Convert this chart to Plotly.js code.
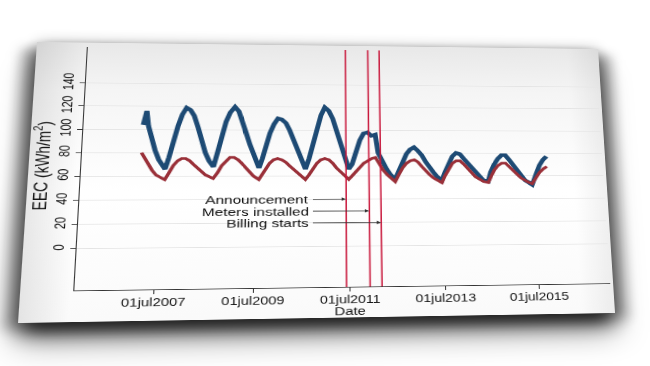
<!DOCTYPE html>
<html>
<head>
<meta charset="utf-8">
<script src="https://cdn.plot.ly/plotly-3.0.1.min.js"></script>
<style>
  html, body { margin: 0; padding: 0; background: #ffffff; width: 650px; height: 366px; overflow: hidden; }
  #sheet {
    position: absolute; left: 0; top: 0; width: 580px; height: 365px;
    transform-origin: 0 0;
    background:
      linear-gradient(to right, rgba(0,0,0,0.09) 0%, rgba(0,0,0,0) 8%, rgba(0,0,0,0) 94%, rgba(0,0,0,0.06) 100%),
      linear-gradient(to bottom, #e8e8e8 0%, #f5f5f5 18%, #ffffff 55%, #fafafa 100%);
    box-shadow: 0 16px 20px rgba(0,0,0,0.6), 0 30px 32px rgba(0,0,0,0.28), -12px 8px 14px rgba(0,0,0,0.35), 12px 8px 14px rgba(0,0,0,0.3), 0 -4px 14px rgba(0,0,0,0.16);
  }
  #chart { position: absolute; left: 0; top: 0; width: 580px; height: 365px; }
</style>
</head>
<body>
<div id="sheet"><div id="chart"></div></div>
<script>
// ---- data ----
const blueDates = ['2007-02-25','2007-03-10','2007-03-20','2007-04-05','2007-05-01','2007-06-01','2007-07-01','2007-08-20','2007-09-15','2007-10-15','2007-11-15','2007-12-15',
 '2008-01-15','2008-02-15','2008-03-15','2008-04-15','2008-05-15','2008-06-15','2008-07-15','2008-08-18','2008-09-15','2008-10-15','2008-11-15','2008-12-15',
 '2009-01-20','2009-02-20','2009-03-20','2009-04-20','2009-05-20','2009-06-20','2009-07-31','2009-08-25','2009-09-20','2009-10-20','2009-11-20','2009-12-20',
 '2010-01-20','2010-02-20','2010-03-20','2010-04-20','2010-05-20','2010-06-20','2010-07-23','2010-08-20','2010-09-20','2010-10-20','2010-11-20','2010-12-20',
 '2011-01-20','2011-02-20','2011-03-20','2011-04-20','2011-05-20','2011-06-24','2011-07-20','2011-08-20','2011-09-20','2011-10-20','2011-11-20','2011-12-20',
 '2012-01-20','2012-02-10','2012-03-15','2012-04-15','2012-05-15','2012-06-21','2012-07-20','2012-08-20','2012-09-20','2012-10-20','2012-11-21','2012-12-20',
 '2013-01-20','2013-02-20','2013-03-20','2013-04-20','2013-05-20','2013-06-24','2013-07-20','2013-08-20','2013-09-20','2013-10-20','2013-11-20','2013-12-20',
 '2014-01-20','2014-02-20','2014-03-20','2014-04-20','2014-05-20','2014-06-28','2014-07-20','2014-08-20','2014-09-20','2014-10-20','2014-11-20','2014-12-20',
 '2015-01-20','2015-02-20','2015-03-20','2015-04-20','2015-05-20','2015-06-16','2015-07-20','2015-08-20','2015-09-20','2015-10-20'];
const blueVals = [104,110,116,103,92,82,74,66,76,90,103,113,
 119,117,112,102,90,80,73,68,80,95,107,115,
 120,116,108,97,87,78,67,75,85,97,105,110,
 109,106,100,92,83,74,66,75,88,102,113,120,
 117,110,100,87,75,66,70,80,91,97,98,95,
 96,80,72,66,61,57,64,72,79,83,85,82,
 78,72,67,63,59,56,63,71,77,80,79,75,
 71,67,63,59,56,55,63,70,75,78,78,74,
 69,64,60,56,54,52,61,69,74,77];

const redDates = ['2007-02-20','2007-03-15','2007-04-15','2007-05-15','2007-06-15','2007-08-20','2007-09-20','2007-10-20','2007-11-20','2007-12-20',
 '2008-01-20','2008-02-20','2008-03-20','2008-04-20','2008-05-20','2008-06-20','2008-08-18','2008-09-20','2008-10-20','2008-11-20','2008-12-20',
 '2009-01-20','2009-02-20','2009-03-20','2009-04-20','2009-05-20','2009-06-20','2009-07-31','2009-08-25','2009-09-20','2009-10-20','2009-11-20','2009-12-20',
 '2010-01-20','2010-02-20','2010-03-20','2010-04-20','2010-05-20','2010-06-20','2010-07-23','2010-08-20','2010-09-20','2010-10-20','2010-11-20','2010-12-20',
 '2011-01-20','2011-02-20','2011-03-20','2011-04-20','2011-05-20','2011-06-24','2011-07-20','2011-08-20','2011-09-20','2011-10-20','2011-11-20','2011-12-20',
 '2012-01-20','2012-02-20','2012-03-20','2012-04-20','2012-05-20','2012-06-21','2012-07-20','2012-08-20','2012-09-20','2012-10-20','2012-11-21','2012-12-20',
 '2013-01-20','2013-02-20','2013-03-20','2013-04-20','2013-05-20','2013-06-24','2013-07-20','2013-08-20','2013-09-20','2013-10-20','2013-11-20','2013-12-20',
 '2014-01-20','2014-02-20','2014-03-20','2014-04-20','2014-05-20','2014-06-28','2014-07-20','2014-08-20','2014-09-20','2014-10-20','2014-11-20','2014-12-20',
 '2015-01-20','2015-02-20','2015-03-20','2015-04-20','2015-05-20','2015-06-16','2015-07-20','2015-08-20','2015-09-20','2015-10-20'];
const redVals = [80,76,70,65,61,57,63,69,73,75,
 75,73,70,67,64,61,58,63,69,73,76,
 76,74,71,67,63,60,57,61,66,71,74,75,
 74,72,69,66,63,60,57,61,66,71,74,75,
 74,71,67,64,61,57,60,64,68,71,73,75,
 76,70,65,61,58,55,61,67,71,73,74,72,
 68,64,61,58,56,54,60,66,71,73,73,70,
 66,62,59,57,55,54,59,65,69,71,71,68,
 65,61,58,56,54,53,58,63,66,68];

const eventNames = ['Announcement', 'Meters installed', 'Billing starts'];
const eventDates = ['2011-06-03', '2011-11-29', '2012-02-28'];
const eventLabelY = [40, 30, 20];

const xTickVals = ['2007-07-01','2009-07-01','2011-07-01','2013-07-01','2015-07-01'];
const xTickText = ['01jul2007','01jul2009','01jul2011','01jul2013','01jul2015'];
const yTickVals = [0, 20, 40, 60, 80, 100, 120, 140];

// ---- page geometry: the chart sheet is photographed tilted; map the flat sheet onto its four corners ----
const W = 580, H = 365;
const sheetCorners = [[37, 42], [598, 49], [615, 313], [18, 323]]; // TL, TR, BR, BL
(function warpSheet() {
  const [[x0, y0], [x1, y1], [x2, y2], [x3, y3]] = sheetCorners;
  const dx1 = x1 - x2, dx2 = x3 - x2, dx3 = x0 - x1 + x2 - x3;
  const dy1 = y1 - y2, dy2 = y3 - y2, dy3 = y0 - y1 + y2 - y3;
  const det = dx1 * dy2 - dx2 * dy1;
  const g = (dx3 * dy2 - dx2 * dy3) / det;
  const h = (dx1 * dy3 - dx3 * dy1) / det;
  const a = x1 - x0 + g * x1, b = x3 - x0 + h * x3, c = x0;
  const d = y1 - y0 + g * y1, e = y3 - y0 + h * y3, f = y0;
  const m = [a / W, d / W, 0, g / W, b / H, e / H, 0, h / H, 0, 0, 1, 0, c, f, 0, 1];
  document.getElementById('sheet').style.transform = 'matrix3d(' + m.join(',') + ')';
})();

// ---- chart ----
const FONT = 'Liberation Sans, Arial, Helvetica, sans-serif';
const arrowTailDate = '2010-09-20';

const traces = [
  { x: blueDates, y: blueVals, type: 'scatter', mode: 'lines', name: 'blue',
    line: { color: '#1d4a74', width: 5 }, showlegend: false },
  { x: redDates, y: redVals, type: 'scatter', mode: 'lines', name: 'red',
    line: { color: '#9a3039', width: 3.6 }, showlegend: false }
];

const shapes = eventDates.map(dt => ({
  type: 'line', xref: 'x', yref: 'paper', x0: dt, x1: dt, y0: 0, y1: 1,
  line: { color: '#c8163a', width: 1.5 }
}));

const annotations = eventNames.map((name, i) => ({
  x: eventDates[i], y: eventLabelY[i], ax: arrowTailDate, ay: eventLabelY[i],
  xref: 'x', yref: 'y', axref: 'x', ayref: 'y', text: name,
  xanchor: 'right', yanchor: 'middle', borderpad: 3,
  showarrow: true, arrowhead: 2, arrowsize: 0.9, arrowwidth: 1, arrowcolor: '#333',
  font: { family: FONT, size: 15, color: '#111' }
}));

const layout = {
  width: W, height: H,
  margin: { l: 50, r: 3, t: 6, b: 39 },
  paper_bgcolor: 'rgba(0,0,0,0)',
  plot_bgcolor: 'rgba(0,0,0,0)',
  font: { family: FONT, size: 14, color: '#111' },
  xaxis: {
    type: 'date', range: ['2005-12-04', '2017-01-20'],
    tickvals: xTickVals, ticktext: xTickText,
    ticks: 'outside', ticklen: 5, tickcolor: '#333', tickwidth: 1,
    ticklabelstandoff: -2,
    showline: true, linecolor: '#333', linewidth: 1,
    showgrid: false, zeroline: false,
    tickfont: { family: FONT, size: 14, color: '#111' },
    title: { text: 'Date', font: { family: FONT, size: 14.5, color: '#111' }, standoff: 2 }
  },
  yaxis: {
    range: [-33.4, 171.9],
    tickvals: yTickVals, tickangle: -90,
    ticks: 'outside', ticklen: 5, tickcolor: '#333', tickwidth: 1,
    showline: true, linecolor: '#333', linewidth: 1,
    showgrid: true, gridcolor: '#e4e4e4', gridwidth: 1, zeroline: false,
    tickfont: { family: FONT, size: 14, color: '#111' },
    title: { text: 'EEC (kWh/m<sup>2</sup>)', font: { family: FONT, size: 18, color: '#111' }, standoff: 8 }
  },
  shapes: shapes,
  annotations: annotations
};

Plotly.newPlot('chart', traces, layout, { displayModeBar: false, staticPlot: true });
</script>
</body>
</html>
